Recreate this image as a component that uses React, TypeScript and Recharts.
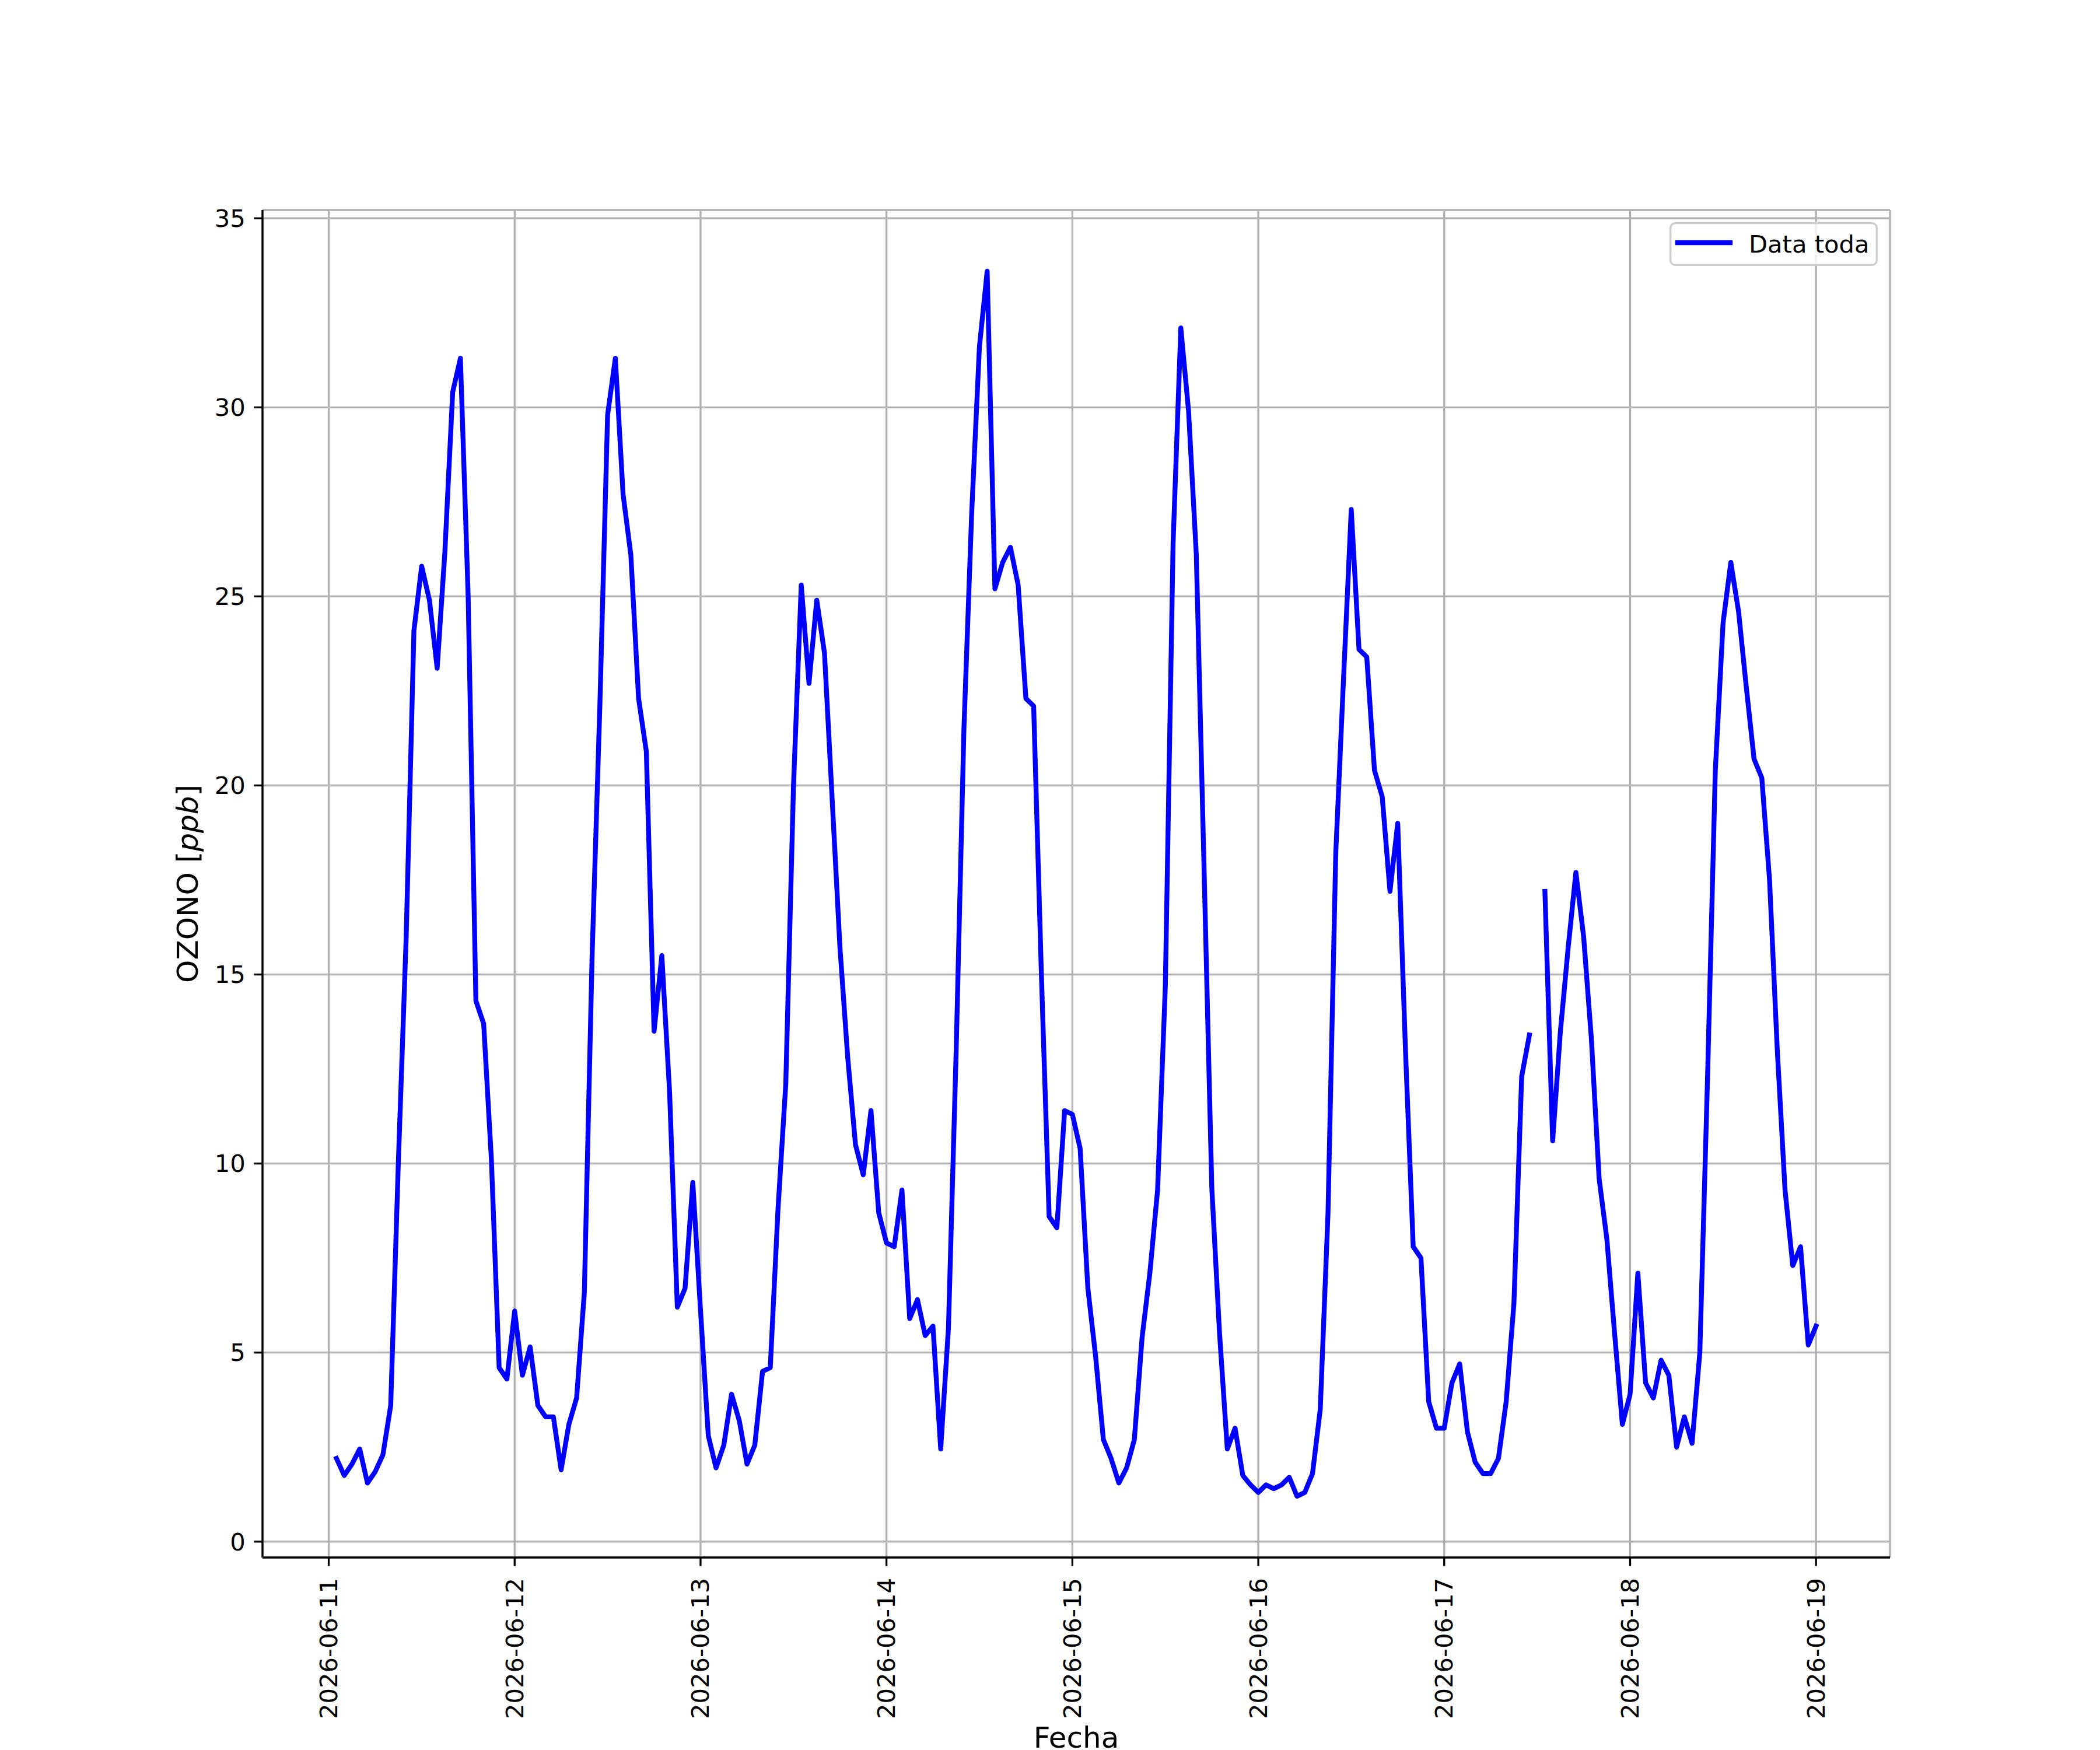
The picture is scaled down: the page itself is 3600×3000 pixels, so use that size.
import { LineChart, Line, XAxis, YAxis, CartesianGrid, Legend } from 'recharts'

// hourly ozone readings, first sample 2026-06-11 01:00
const dayLabels = [
  '2026-06-11', '2026-06-12', '2026-06-13', '2026-06-14', '2026-06-15',
  '2026-06-16', '2026-06-17', '2026-06-18', '2026-06-19',
]
const firstHour = 1

const ozone0611 = [2.2, 1.75, 2.05, 2.45, 1.55, 1.85, 2.3, 3.6, 10.1, 16.0, 24.1, 25.8, 24.9, 23.1, 26.2, 30.4, 31.3, 25.0, 14.3, 13.7, 10.1, 4.6, 4.3]
const ozone0612 = [6.1, 4.4, 5.15, 3.6, 3.3, 3.3, 1.9, 3.1, 3.8, 6.6, 15.5, 22.1, 29.8, 31.3, 27.7, 26.1, 22.3, 20.9, 13.5, 15.5, 11.9, 6.2, 6.7, 9.5]
const ozone0613 = [6.1, 2.8, 1.95, 2.55, 3.9, 3.2, 2.05, 2.55, 4.5, 4.6, 8.8, 12.1, 20.0, 25.3, 22.7, 24.9, 23.5, 19.6, 15.7, 12.8, 10.5, 9.7, 11.4, 8.7]
const ozone0614 = [7.9, 7.8, 9.3, 5.9, 6.4, 5.45, 5.7, 2.45, 5.65, 13.0, 21.5, 27.2, 31.6, 33.6, 25.2, 25.9, 26.3, 25.3, 22.3, 22.1, 15.0, 8.6, 8.3, 11.4]
const ozone0615 = [11.3, 10.4, 6.7, 4.9, 2.7, 2.2, 1.55, 1.95, 2.7, 5.4, 7.1, 9.3, 14.7, 26.4, 32.1, 29.9, 26.1, 17.8, 9.35, 5.5, 2.45, 3.0, 1.75, 1.5]
const ozone0616 = [1.3, 1.5, 1.4, 1.5, 1.7, 1.2, 1.3, 1.8, 3.5, 8.7, 18.2, 22.8, 27.3, 23.6, 23.4, 20.4, 19.7, 17.2, 19.0, 13.0, 7.8, 7.5, 3.7, 3.0]
const ozone0617 = [3.0, 4.2, 4.7, 2.9, 2.1, 1.8, 1.8, 2.2, 3.7, 6.3, 12.3, 13.4, null, 17.2, 10.6, 13.5, 15.7, 17.7, 16.0, 13.3, 9.6, 8.0, 5.5, 3.1]
const ozone0618 = [3.9, 7.1, 4.2, 3.8, 4.8, 4.4, 2.5, 3.3, 2.6, 5.0, 12.3, 20.4, 24.3, 25.9, 24.6, 22.6, 20.7, 20.2, 17.5, 13.0, 9.3, 7.3, 7.8, 5.2]
const ozone0619 = [5.7]

const yTicks = [0, 5, 10, 15, 20, 25, 30, 35]

const ozone = [
  ...ozone0611, ...ozone0612, ...ozone0613, ...ozone0614, ...ozone0615,
  ...ozone0616, ...ozone0617, ...ozone0618, ...ozone0619,
]
const data = ozone.map((v, i) => ({ t: firstHour + i, ozono: v }))
const xTicks = dayLabels.map((_, i) => i * 24)

// matplotlib-like 5% margins
const tMin = data[0].t
const tMax = data[data.length - 1].t
const tPad = (tMax - tMin) * 0.05
const vals = ozone.filter((v) => v !== null) as number[]
const vMin = Math.min(...vals)
const vMax = Math.max(...vals)
const vPad = (vMax - vMin) * 0.05

const FONT = '"DejaVu Sans", sans-serif'
const FS = 41.67
const LABEL_FS = 50
const LW = 3.33
const SERIES_W = 8.33

function DateTick(props: any) {
  const { x, payload } = props
  const y = 2705
  return (
    <text
      x={x}
      y={y}
      transform={`rotate(-90 ${x} ${y})`}
      textAnchor="end"
      dominantBaseline="central"
      fontSize={FS}
      fontFamily={FONT}
      fill="#000"
    >
      {dayLabels[Math.round(payload.value / 24)]}
    </text>
  )
}

function LegendBox() {
  return (
    <svg width={357} height={75}>
      <rect x={1.67} y={1.67} width={353.6} height={71.6} rx={8} fill="#fff" fillOpacity={0.8} stroke="#cccccc" strokeWidth={LW} />
      <line x1={14} y1={35} x2={104} y2={35} stroke="#0000ff" strokeWidth={SERIES_W} strokeLinecap="square" />
      <text x={136} y={37} dominantBaseline="central" fontSize={FS} fontFamily={FONT} fill="#000">
        Data toda
      </text>
    </svg>
  )
}

export default function App() {
  return (
    <div style={{ position: 'absolute', left: 0, top: 0, width: 3600, height: 3000, background: '#fff' }}>
      <LineChart
        width={3600}
        height={3000}
        data={data}
        margin={{ top: 360, right: 360, left: 350, bottom: 30 }}
      >
        <CartesianGrid stroke="#b0b0b0" strokeWidth={LW} />
        <XAxis
          dataKey="t"
          type="number"
          domain={[tMin - tPad, tMax + tPad]}
          allowDataOverflow
          ticks={xTicks}
          interval={0}
          height={300}
          tickSize={14.6}
          tickLine={{ stroke: '#000', strokeWidth: LW }}
          axisLine={{ stroke: '#000', strokeWidth: LW }}
          tick={<DateTick />}
          label={() => (
            <text x={1845} y={2996} textAnchor="middle" fontSize={LABEL_FS} fontFamily={FONT} fill="#000">
              Fecha
            </text>
          )}
        />
        <XAxis
          xAxisId="top"
          orientation="top"
          type="number"
          domain={[0, 1]}
          height={0}
          tick={false}
          tickLine={false}
          axisLine={{ stroke: '#000', strokeWidth: LW }}
        />
        <YAxis
          type="number"
          domain={[vMin - vPad, vMax + vPad]}
          allowDataOverflow
          ticks={yTicks}
          interval={0}
          width={100}
          tickSize={14.6}
          tickMargin={14.6}
          tickLine={{ stroke: '#000', strokeWidth: LW }}
          axisLine={{ stroke: '#000', strokeWidth: LW }}
          tick={{ fill: '#000', fontSize: FS, fontFamily: FONT }}
          label={() => (
            <text
              x={322}
              y={1515}
              transform="rotate(-90 322 1515)"
              textAnchor="middle"
              dominantBaseline="central"
              fontSize={LABEL_FS}
              fontFamily={FONT}
              fill="#000"
            >
              OZONO [<tspan fontStyle="italic">ppb</tspan>]
            </text>
          )}
        />
        <YAxis
          yAxisId="right"
          orientation="right"
          type="number"
          domain={[0, 1]}
          width={0}
          tick={false}
          tickLine={false}
          axisLine={{ stroke: '#000', strokeWidth: LW }}
        />
        <Legend
          layout="vertical"
          align="center"
          verticalAlign="middle"
          wrapperStyle={{ left: 2862, top: 381, width: 357, height: 75 }}
          content={() => <LegendBox />}
        />
        <Line
          type="linear"
          dataKey="ozono"
          name="Data toda"
          stroke="#0000ff"
          strokeWidth={SERIES_W}
          strokeLinejoin="round"
          strokeLinecap="square"
          dot={false}
          activeDot={false}
          connectNulls={false}
          isAnimationActive={false}
        />
      </LineChart>
    </div>
  )
}
